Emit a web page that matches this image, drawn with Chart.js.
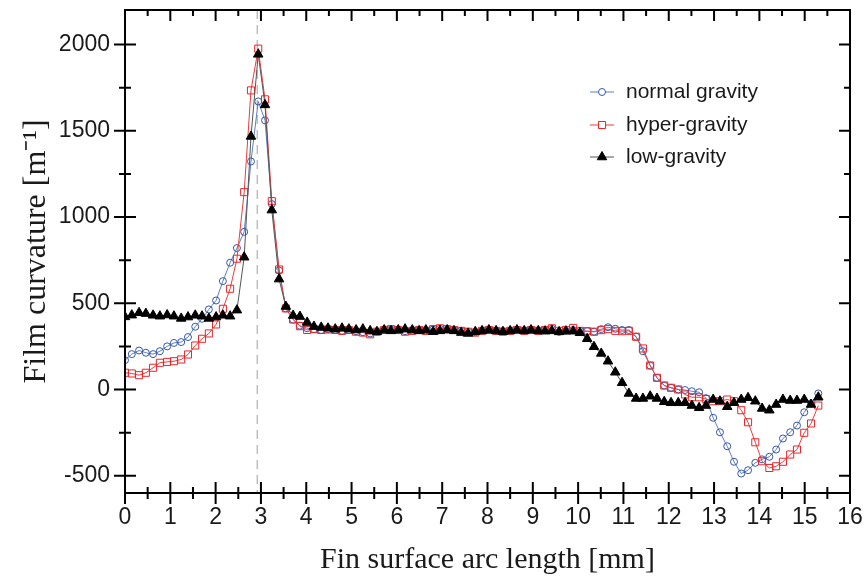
<!DOCTYPE html>
<html lang="en">
<head>
    <meta charset="UTF-8">
    <title>Film curvature</title>
    <script src="https://cdn.jsdelivr.net/npm/chart.js"></script>
    <style>
        body { margin: 0; background: #fff; }
        #wrap { width: 866px; height: 579px; }
    </style>
</head>
<body>
<div id="wrap"><canvas id="curvChart" width="866" height="579"></canvas></div>
<script>
    // arc length positions along the fin surface [mm]
    const arcLength = [
        0.00, 0.15, 0.31, 0.46, 0.62, 0.77, 0.93, 1.08, 1.24, 1.39,
        1.55, 1.70, 1.85, 2.01, 2.16, 2.32, 2.47, 2.63, 2.78, 2.94,
        3.09, 3.24, 3.40, 3.55, 3.71, 3.86, 4.02, 4.17, 4.33, 4.48,
        4.64, 4.79, 4.94, 5.10, 5.25, 5.41, 5.56, 5.72, 5.87, 6.03,
        6.18, 6.34, 6.49, 6.64, 6.80, 6.95, 7.11, 7.26, 7.42, 7.57,
        7.73, 7.88, 8.03, 8.19, 8.34, 8.50, 8.65, 8.81, 8.96, 9.12,
        9.27, 9.42, 9.58, 9.73, 9.89, 10.04, 10.20, 10.35, 10.51, 10.66,
        10.82, 10.97, 11.12, 11.28, 11.43, 11.59, 11.74, 11.90, 12.05, 12.21,
        12.36, 12.51, 12.67, 12.82, 12.98, 13.13, 13.29, 13.44, 13.60, 13.75,
        13.91, 14.06, 14.22, 14.37, 14.52, 14.68, 14.83, 14.99, 15.14, 15.30
    ];

    const normalGravity = [
        170, 205, 226, 213, 205, 222, 250, 270, 275, 304,
        364, 410, 464, 516, 628, 735, 820, 914, 1322, 1670,
        1560, 1075, 690, 470, 405, 370, 355, 350, 345, 350,
        345, 340, 345, 338, 332, 325, 335, 345, 348, 345,
        338, 340, 345, 342, 348, 352, 348, 345, 340, 335,
        332, 340, 345, 340, 338, 340, 345, 342, 345, 340,
        345, 352, 334, 340, 345, 340, 338, 335, 350, 361,
        352, 345, 345, 306, 222, 139, 68, 23, 10, 0,
        -3, -10, -16, -50, -164, -248, -329, -419, -487, -468,
        -425, -405, -390, -348, -284, -248, -209, -132, -80, -23
    ];

    const hyperGravity = [
        97, 93, 83, 97, 126, 155, 160, 164, 174, 203,
        255, 294, 325, 377, 468, 584, 758, 1144, 1734, 1976,
        1682, 1092, 696, 470, 406, 367, 345, 350, 345, 348,
        345, 340, 345, 335, 330, 320, 335, 345, 350, 345,
        335, 340, 345, 340, 350, 355, 350, 345, 340, 335,
        330, 340, 345, 340, 335, 340, 345, 340, 345, 340,
        345, 355, 340, 345, 357, 340, 338, 335, 344, 350,
        340, 338, 340, 306, 238, 139, 68, 23, 10, 0,
        -29, -45, -45, -55, -68, -68, -58, -68, -120, -190,
        -306, -416, -455, -445, -419, -377, -348, -251, -197, -93
    ];

    const lowGravity = [
        421, 431, 445, 440, 430, 425, 432, 425, 412, 420,
        430, 425, 412, 420, 430, 425, 460, 767, 1467, 1943,
        1650, 1040, 640, 481, 429, 423, 389, 365, 360, 355,
        350, 355, 350, 345, 350, 340, 335, 345, 340, 345,
        350, 345, 340, 345, 335, 340, 345, 340, 330, 325,
        335, 340, 345, 340, 335, 340, 345, 340, 345, 340,
        338, 340, 334, 338, 338, 329, 294, 248, 209, 164,
        100, 39, -23, -52, -52, -39, -52, -71, -77, -77,
        -77, -93, -106, -93, -58, -68, -100, -77, -58, -48,
        -68, -110, -120, -87, -58, -64, -64, -58, -87, -45
    ];

    const seriesNames = ['normal gravity', 'hyper-gravity', 'low-gravity'];
    const xTickValues = [0, 1, 2, 3, 4, 5, 6, 7, 8, 9, 10, 11, 12, 13, 14, 15, 16];
    const yTickValues = [-500, 0, 500, 1000, 1500, 2000];
    const peakLine = 2.92;   // dashed marker at the curvature peak

    function toPoints(ys) {
        return ys.map((y, i) => ({ x: arcLength[i], y: y }));
    }

    // frame, inside/outside ticks, dashed peak line, legend
    const framePlugin = {
        id: 'frame',
        beforeDatasetsDraw(chart) {
            const { ctx, chartArea: a, scales: { x } } = chart;
            const px = x.getPixelForValue(peakLine);
            ctx.save();
            ctx.strokeStyle = '#bdbdbd';
            ctx.lineWidth = 1.5;
            ctx.setLineDash([9, 6]);
            ctx.beginPath();
            ctx.moveTo(px, a.top);
            ctx.lineTo(px, a.bottom);
            ctx.stroke();
            ctx.restore();
        },
        afterDraw(chart) {
            const { ctx, chartArea: a, scales: { x, y } } = chart;
            ctx.save();
            ctx.strokeStyle = '#000';
            ctx.lineWidth = 2;
            ctx.strokeRect(a.left, a.top, a.right - a.left, a.bottom - a.top);

            ctx.beginPath();
            for (let v = 0; v <= 16; v += 0.5) {
                const px = x.getPixelForValue(v);
                const len = Number.isInteger(v) ? 11 : 6;
                ctx.moveTo(px, a.bottom - len);
                ctx.lineTo(px, a.bottom + len);
                ctx.moveTo(px, a.top);
                ctx.lineTo(px, a.top + len);
            }
            for (let v = -500; v <= 2000; v += 250) {
                const py = y.getPixelForValue(v);
                const len = v % 500 === 0 ? 11 : 6;
                ctx.moveTo(a.left - len, py);
                ctx.lineTo(a.left + len, py);
                ctx.moveTo(a.right, py);
                ctx.lineTo(a.right - len, py);
            }
            ctx.stroke();

            // legend, in the order of seriesNames
            const rows = [92, 125, 157];
            const lx = 590;
            seriesNames.forEach((name, i) => {
                const ds = chart.data.datasets.find(d => d.label === name);
                const ly = rows[i];
                ctx.strokeStyle = ds.borderColor;
                ctx.lineWidth = 1;
                ctx.beginPath();
                ctx.moveTo(lx, ly);
                ctx.lineTo(lx + 24, ly);
                ctx.stroke();
                ctx.fillStyle = ds.pointStyle === 'triangle' ? '#000' : '#fff';
                ctx.strokeStyle = ds.pointBorderColor;
                Chart.helpers.drawPoint(ctx, {
                    pointStyle: ds.pointStyle,
                    radius: ds.pointRadius,
                    borderWidth: 1
                }, lx + 12, ly);
                ctx.fillStyle = '#1a1a1a';
                ctx.font = '21px "Liberation Sans", Arial, sans-serif';
                ctx.textBaseline = 'middle';
                ctx.fillText(ds.label, lx + 36, ly);
            });
            ctx.restore();
        }
    };

    const ctx = document.getElementById('curvChart').getContext('2d');
    new Chart(ctx, {
        type: 'line',
        data: {
            datasets: [
                {
                    label: seriesNames[2],
                    data: toPoints(lowGravity),
                    borderColor: '#555555',
                    borderWidth: 1,
                    pointStyle: 'triangle',
                    pointRadius: 5.5,
                    pointBackgroundColor: '#000000',
                    pointBorderColor: '#000000',
                    order: 0
                },
                {
                    label: seriesNames[1],
                    data: toPoints(hyperGravity),
                    borderColor: '#ee3b3b',
                    borderWidth: 1,
                    pointStyle: 'rect',
                    pointRadius: 5,
                    pointBorderWidth: 1,
                    pointBackgroundColor: 'rgba(255,255,255,0)',
                    pointBorderColor: '#e8262a',
                    order: 1
                },
                {
                    label: seriesNames[0],
                    data: toPoints(normalGravity),
                    borderColor: '#5b7fc4',
                    borderWidth: 1,
                    pointStyle: 'circle',
                    pointRadius: 3.5,
                    pointBorderWidth: 1,
                    pointBackgroundColor: 'rgba(255,255,255,0)',
                    pointBorderColor: '#3556a8',
                    order: 2
                }
            ]
        },
        options: {
            responsive: false,
            animation: false,
            layout: { padding: { top: 10, right: 16, left: 0, bottom: 0 } },
            plugins: { legend: { display: false }, tooltip: { enabled: false } },
            scales: {
                x: {
                    type: 'linear',
                    min: 0,
                    max: 16,
                    afterBuildTicks: s => { s.ticks = xTickValues.map(v => ({ value: v })); },
                    afterFit: s => { s.height = 86; s.paddingLeft = 0; s.paddingRight = 0; },
                    grid: { display: false, drawTicks: false },
                    border: { display: false },
                    ticks: {
                        padding: 11,
                        color: '#1a1a1a',
                        callback: v => String(v),
                        font: { family: '"Liberation Sans", Arial, sans-serif', size: 23 }
                    },
                    title: {
                        display: true,
                        text: 'Fin surface arc length [mm]',
                        color: '#1a1a1a',
                        padding: { top: 0, bottom: 1 },
                        font: { family: '"Liberation Serif", "Times New Roman", serif', size: 30 }
                    }
                },
                y: {
                    type: 'linear',
                    min: -600,
                    max: 2200,
                    afterBuildTicks: s => { s.ticks = yTickValues.map(v => ({ value: v })); },
                    afterFit: s => { s.width = 125; s.paddingTop = 0; s.paddingBottom = 0; },
                    grid: { display: false, drawTicks: false },
                    border: { display: false },
                    ticks: {
                        padding: 15,
                        color: '#1a1a1a',
                        callback: v => String(v),
                        font: { family: '"Liberation Sans", Arial, sans-serif', size: 23 }
                    },
                    title: {
                        display: true,
                        text: 'Film curvature [m⁻¹]',
                        color: '#1a1a1a',
                        padding: { top: 17, bottom: 0 },
                        font: { family: '"Liberation Serif", "Times New Roman", serif', size: 32 }
                    }
                }
            }
        },
        plugins: [framePlugin]
    });
</script>
</body>
</html>
